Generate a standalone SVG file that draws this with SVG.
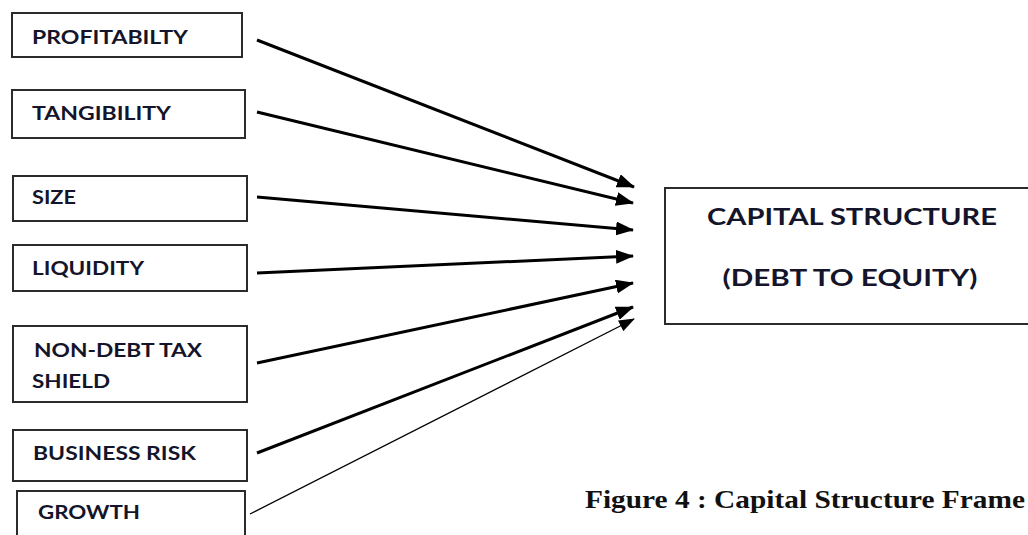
<svg xmlns="http://www.w3.org/2000/svg" width="1028" height="535" viewBox="0 0 1028 535">
  <style>
    .box { fill: #ffffff; stroke: #2b2b2b; stroke-width: 2; }
    .lbl { font-family: Lato, "Liberation Sans", sans-serif; font-weight: bold; font-size: 18px; fill: #14142a; }
    .big { font-family: Lato, "Liberation Sans", sans-serif; font-weight: bold; font-size: 23px; fill: #14142a; }
    .cap { font-family: "Liberation Serif", serif; font-weight: bold; font-size: 26px; fill: #111111; }
    .arr { stroke: #000000; stroke-width: 3; fill: none; marker-end: url(#head); }
    .arr-thin { stroke: #000000; stroke-width: 1.3; fill: none; marker-end: url(#head-thin); }
  </style>
  <defs>
    <marker id="head" markerUnits="userSpaceOnUse" markerWidth="18" markerHeight="14" refX="17" refY="7" orient="auto">
      <path d="M0,0 L18,7 L0,14 Z" fill="#000"/>
    </marker>
    <marker id="head-thin" markerUnits="userSpaceOnUse" markerWidth="16" markerHeight="12" refX="15" refY="6" orient="auto">
      <path d="M0,0 L16,6 L0,12 Z" fill="#000"/>
    </marker>
  </defs>
  <rect width="1028" height="535" fill="#ffffff"/>

  <g id="profitability">
    <rect class="box" x="12" y="13" width="230" height="44"/>
    <text class="lbl" x="32" y="44" textLength="156" lengthAdjust="spacingAndGlyphs">PROFITABILTY</text>
  </g>
  <g id="tangibility">
    <rect class="box" x="12" y="90" width="233" height="48"/>
    <text class="lbl" x="32" y="120" textLength="139" lengthAdjust="spacingAndGlyphs">TANGIBILITY</text>
  </g>
  <g id="size">
    <rect class="box" x="13" y="176" width="234" height="45"/>
    <text class="lbl" x="32" y="204" textLength="44" lengthAdjust="spacingAndGlyphs">SIZE</text>
  </g>
  <g id="liquidity">
    <rect class="box" x="13" y="245" width="234" height="46"/>
    <text class="lbl" x="32" y="275" textLength="112" lengthAdjust="spacingAndGlyphs">LIQUIDITY</text>
  </g>
  <g id="non-debt-tax-shield">
    <rect class="box" x="13" y="326" width="234" height="76"/>
    <text class="lbl" x="34" y="357" textLength="168" lengthAdjust="spacingAndGlyphs">NON-DEBT TAX</text>
    <text class="lbl" x="32" y="388" textLength="78" lengthAdjust="spacingAndGlyphs">SHIELD</text>
  </g>
  <g id="business-risk">
    <rect class="box" x="13" y="430" width="234" height="51"/>
    <text class="lbl" x="33" y="460" textLength="163" lengthAdjust="spacingAndGlyphs">BUSINESS RISK</text>
  </g>
  <g id="growth">
    <rect class="box" x="17" y="491" width="228" height="60"/>
    <text class="lbl" x="38" y="519" textLength="102" lengthAdjust="spacingAndGlyphs">GROWTH</text>
  </g>

  <g id="capital-structure">
    <rect class="box" x="665" y="188" width="380" height="136"/>
    <text class="big" x="852" y="225" text-anchor="middle" textLength="290" lengthAdjust="spacingAndGlyphs">CAPITAL STRUCTURE</text>
    <text class="big" x="850" y="286" text-anchor="middle" textLength="255" lengthAdjust="spacingAndGlyphs">(DEBT TO EQUITY)</text>
  </g>

  <g id="connectors">
    <line class="arr" x1="257" y1="40" x2="634" y2="187"/>
    <line class="arr" x1="257" y1="112" x2="633" y2="203"/>
    <line class="arr" x1="257" y1="197" x2="633" y2="230"/>
    <line class="arr" x1="257" y1="273" x2="633" y2="256"/>
    <line class="arr" x1="257" y1="363" x2="633" y2="283"/>
    <line class="arr" x1="257" y1="453" x2="633" y2="307"/>
    <line class="arr-thin" x1="250" y1="514" x2="634" y2="319"/>
  </g>

  <text class="cap" x="585" y="508" textLength="440" lengthAdjust="spacingAndGlyphs">Figure 4  : Capital Structure Frame</text>
</svg>
